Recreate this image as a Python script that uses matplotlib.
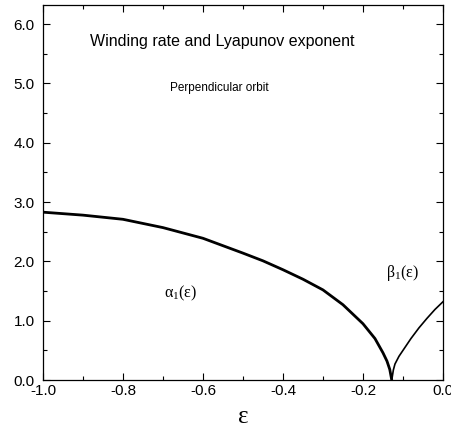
import matplotlib
matplotlib.use("Agg")
import matplotlib.pyplot as plt
from matplotlib.ticker import MultipleLocator, FormatStrFormatter

plt.rcParams['font.family'] = ['Liberation Sans', 'DejaVu Sans']
plt.rcParams['mathtext.fontset'] = 'custom'
plt.rcParams['mathtext.rm'] = 'Liberation Serif'
plt.rcParams['mathtext.it'] = 'Liberation Serif:italic'

# Winding rate alpha_1(eps) for eps < eps_c
eps_alpha = [-1.0, -0.9, -0.8, -0.7, -0.6, -0.5, -0.45, -0.4, -0.35, -0.3,
             -0.25, -0.2, -0.17, -0.15, -0.14, -0.133, -0.128]
alpha = [2.83, 2.78, 2.71, 2.57, 2.39, 2.14, 2.01, 1.86, 1.70, 1.52,
         1.27, 0.95, 0.70, 0.46, 0.32, 0.18, 0.0]

# Lyapunov exponent beta_1(eps) for eps > eps_c
eps_beta = [-0.128, -0.124, -0.12, -0.11, -0.1, -0.08, -0.06, -0.04, -0.02, 0.0]
beta = [0.0, 0.17, 0.27, 0.40, 0.50, 0.70, 0.88, 1.04, 1.19, 1.32]

fig = plt.figure(figsize=(4.52, 4.28), dpi=100)
ax = fig.add_axes([0.095, 0.112, 0.885, 0.876])

ax.plot(eps_alpha, alpha, color='black', lw=2.0, solid_capstyle='butt')
ax.plot(eps_beta, beta, color='black', lw=1.2)

ax.set_xlim(-1.0, 0.0)
ax.set_ylim(0.0, 6.32)
ax.xaxis.set_major_locator(MultipleLocator(0.2))
ax.xaxis.set_minor_locator(MultipleLocator(0.1))
ax.yaxis.set_major_locator(MultipleLocator(1.0))
ax.yaxis.set_minor_locator(MultipleLocator(0.5))
ax.xaxis.set_major_formatter(FormatStrFormatter('%.1f'))
ax.yaxis.set_major_formatter(FormatStrFormatter('%.1f'))
ax.tick_params(which='both', direction='in', top=True, right=True,
               labelsize=11, width=0.8)
ax.tick_params(which='major', length=5)
ax.tick_params(which='minor', length=3)
ax.tick_params(axis='x', pad=3)
ax.tick_params(axis='y', pad=6)
for s in ax.spines.values():
    s.set_linewidth(0.9)

ax.set_xlabel(r'$\mathrm{\varepsilon}$', fontsize=18, labelpad=4)

ax.text(-0.552, 5.70, 'Winding rate and Lyapunov exponent', fontsize=11.5,
        ha='center', va='center')
ax.text(-0.56, 4.93, 'Perpendicular orbit', fontsize=8.5,
        ha='center', va='center')
ax.text(-0.655, 1.46, r'$\mathrm{\alpha_1(\varepsilon)}$', fontsize=11.5,
        ha='center', va='center')
ax.text(-0.1, 1.8, r'$\mathrm{\beta_1(\varepsilon)}$', fontsize=11.5,
        ha='center', va='center')

fig.savefig('out.png', dpi=100)
